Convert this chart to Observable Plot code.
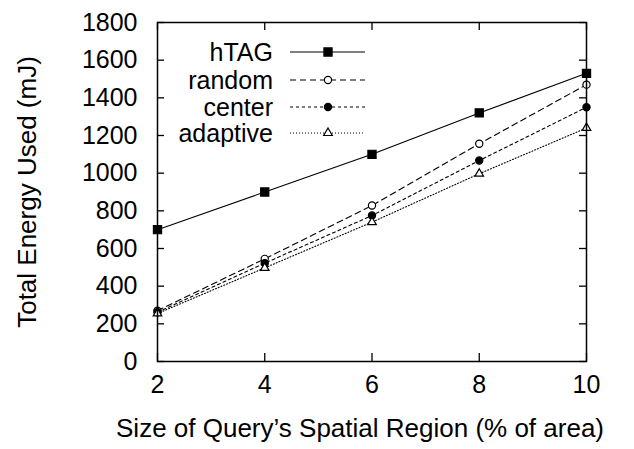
<!DOCTYPE html>
<html>
<head>
<meta charset="utf-8">
<script src="https://cdn.jsdelivr.net/npm/d3@7"></script>
<script src="https://cdn.jsdelivr.net/npm/@observablehq/plot@0.6"></script>
<style>
  html, body { margin: 0; padding: 0; background: #fff; }
  #chart svg { display: block; }
</style>
</head>
<body>
<div id="chart"></div>
<script>
// Query region size (% of area)
const regionSizes = [2, 4, 6, 8, 10];

// Total energy used (mJ) per scheme
const hTAG     = [700, 900, 1100, 1320, 1530];
const random   = [270, 545, 828, 1156, 1470];
const center   = [262, 522, 775, 1067, 1350];
const adaptive = [255, 497, 740, 997, 1240];

const seriesNames = ["hTAG", "random", "center", "adaptive"];
const seriesValues = [hTAG, random, center, adaptive];

const yTicks = [0, 200, 400, 600, 800, 1000, 1200, 1400, 1600, 1800];
const xTicks = [2, 4, 6, 8, 10];

// line dash + marker style for each scheme
const styles = {
  hTAG:     {dash: null,  symbol: "square",   fill: "black", r: 4.6},
  random:   {dash: "6,4", symbol: "circle",   fill: "white", r: 3.6},
  center:   {dash: "3,3", symbol: "circle",   fill: "black", r: 3.6},
  adaptive: {dash: "1,2", symbol: "triangle", fill: "white", r: 3.2}
};

const rows = seriesNames.flatMap((name, i) =>
  regionSizes.map((x, j) => ({series: name, x, y: seriesValues[i][j]}))
);

const W = 634, H = 449;
const mL = 157, mR = 48, mT = 22, mB = 88;
const innerW = W - mL - mR, innerH = H - mT - mB;
const tickLen = 7;
const font = "'Liberation Sans', Arial, Helvetica, sans-serif";

const lineMarks = seriesNames.map(name => Plot.line(rows.filter(d => d.series === name), {
  x: "x", y: "y", stroke: "black", strokeWidth: 1.1,
  strokeDasharray: styles[name].dash
}));
const dotMarks = seriesNames.map(name => Plot.dot(rows.filter(d => d.series === name), {
  x: "x", y: "y", symbol: () => styles[name].symbol, r: styles[name].r,
  fill: styles[name].fill, stroke: "black", strokeWidth: 1.2
}));

const chart = Plot.plot({
  width: W, height: H,
  marginLeft: mL, marginRight: mR, marginTop: mT, marginBottom: mB,
  style: {fontFamily: font, fontSize: "25px", color: "black", background: "white"},
  x: {domain: [2, 10], ticks: xTicks},
  y: {domain: [0, 1800], ticks: yTicks},
  symbol: {type: "identity"},
  marks: [
    // inward ticks on all four sides
    Plot.tickY(yTicks, {y: d => d, insetRight: innerW - tickLen, stroke: "black", strokeWidth: 1.3}),
    Plot.tickY(yTicks, {y: d => d, insetLeft: innerW - tickLen, stroke: "black", strokeWidth: 1.3}),
    Plot.tickX(xTicks, {x: d => d, insetTop: innerH - tickLen - 1, stroke: "black", strokeWidth: 1.3}),
    Plot.tickX(xTicks, {x: d => d, insetBottom: innerH - tickLen - 1, stroke: "black", strokeWidth: 1.3}),
    Plot.axisY(yTicks, {tickSize: 0, tickPadding: 20, label: null, fontSize: 25, tickFormat: d3.format("d")}),
    Plot.axisX(xTicks, {tickSize: 0, tickPadding: 14, label: null, fontSize: 25, tickFormat: d3.format("d")}),
    Plot.text(["Total Energy Used (mJ)"], {
      frameAnchor: "left", dx: -130, rotate: -90, fontSize: 26,
      textAnchor: "middle", lineAnchor: "middle"
    }),
    Plot.text(["Size of Query\u2019s Spatial Region (% of area)"], {
      frameAnchor: "bottom", dx: -12, dy: 67, fontSize: 26,
      textAnchor: "middle", lineAnchor: "middle"
    }),
    ...lineMarks,
    ...dotMarks,
    Plot.frame({stroke: "black", strokeWidth: 1.5})
  ]
});

// Key in the upper-left of the plot area
const svg = d3.select(chart);
const key = svg.append("g").attr("font-family", font).attr("font-size", 25);
const keyTextRight = 273, keyLine = [290, 365], keyMarker = 328;
const keyRows = [52, 80, 107, 133];
const symbolPath = (name) => {
  const s = styles[name];
  const type = s.symbol === "square" ? d3.symbolSquare : s.symbol === "triangle" ? d3.symbolTriangle : d3.symbolCircle;
  return d3.symbol(type, Math.PI * s.r * s.r)();
};
seriesNames.forEach((name, i) => {
  const y = keyRows[i];
  key.append("text").attr("x", keyTextRight).attr("y", y).attr("dy", "0.35em")
    .attr("text-anchor", "end").attr("fill", "black").text(name);
  key.append("line").attr("x1", keyLine[0]).attr("x2", keyLine[1]).attr("y1", y).attr("y2", y)
    .attr("stroke", "black").attr("stroke-width", 1.1)
    .attr("stroke-dasharray", styles[name].dash);
  key.append("path").attr("d", symbolPath(name)).attr("transform", `translate(${keyMarker},${y})`)
    .attr("fill", styles[name].fill).attr("stroke", "black").attr("stroke-width", 1.2);
});

document.getElementById("chart").appendChild(chart);
</script>
</body>
</html>
